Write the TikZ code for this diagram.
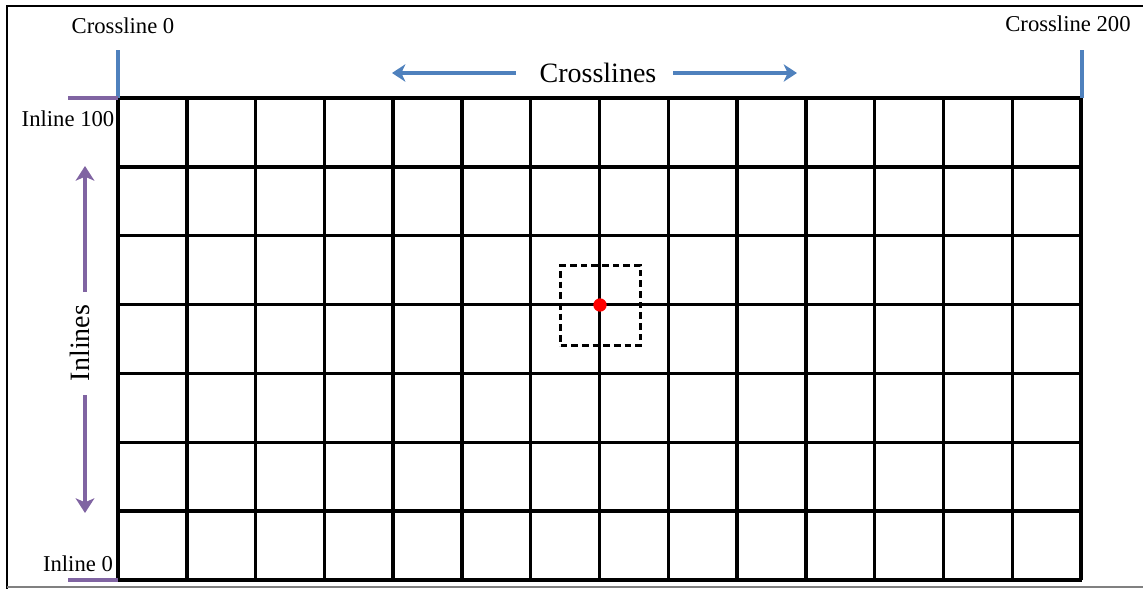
\documentclass[tikz,border=0pt]{standalone}
\usepackage{fontspec}
\setmainfont{Liberation Serif}
\usetikzlibrary{arrows.meta}
\definecolor{lblue}{HTML}{4F81BD}
\definecolor{lpurple}{HTML}{8064A2}
\tikzset{
  gridline/.style={line width=2.6pt, black},
  lbl/.style={inner sep=0pt, font=\fontsize{17}{19}\selectfont},
  biglbl/.style={inner sep=0pt, font=\fontsize{21}{24}\selectfont},
  bluearrow/.style={lblue, line width=2.6pt, -{Stealth[length=10pt,width=13pt,inset=3pt]}},
  purplearrow/.style={lpurple, line width=3pt, -{Stealth[length=11pt,width=14pt,inset=3pt]}},
  bluetick/.style={lblue, line width=2.4pt},
  purpletick/.style={lpurple, line width=2.8pt},
}
\begin{document}
\begin{tikzpicture}[x=0.75pt,y=-0.75pt]
\useasboundingbox (0,0) rectangle (1143,589);
% frame
\draw[line width=1.8pt] (7,589) -- (7,6) -- (1143,6);
\draw[line width=1.4pt, gray] (7,587) -- (1143,587);
% grid
\foreach \i in {0,...,14} {
  \draw[gridline] ({118+\i*68.79},98) -- ({118+\i*68.79},580);
}
\foreach \j in {0,...,7} {
  \draw[gridline] (117,{98+\j*68.86}) -- (1082,{98+\j*68.86});
}
% dashed window and point
\node[draw, line width=1.9pt, dash pattern=on 5pt off 3pt, minimum width=60pt, minimum height=60pt, inner sep=0pt] (win) at (600.5,305.5) {};
\node[circle, fill=red, inner sep=0pt, minimum size=10pt] (pt) at (600,305) {};
% labels
\node[lbl] (c0) at (123,26) {Crossline 0};
\node[lbl] (c200) at (1068,24) {Crossline 200};
\node[lbl] (i100) at (68,119) {Inline 100};
\node[lbl] (i0) at (78,564) {Inline 0};
\node[biglbl] (cl) at (598,73) {Crosslines};
\node[biglbl, rotate=90] (il) at (80,343) {Inlines};
% ticks
\coordinate (t0a) at (118,50); \coordinate (t0b) at (118,98);
\coordinate (t2a) at (1082,50); \coordinate (t2b) at (1082,98);
\draw[bluetick] (t0a) -- (t0b);
\draw[bluetick] (t2a) -- (t2b);
\coordinate (p1a) at (68,98); \coordinate (p1b) at (118,98);
\coordinate (p2a) at (68,580); \coordinate (p2b) at (118,580);
\draw[purpletick] (p1a) -- (p1b);
\draw[purpletick] (p2a) -- (p2b);
% arrows
\coordinate (la) at (516,73); \coordinate (lb) at (392,73);
\coordinate (ra) at (673,73); \coordinate (rb) at (797,73);
\draw[bluearrow] (la) -- (lb);
\draw[bluearrow] (ra) -- (rb);
\coordinate (ua) at (85,292); \coordinate (ub) at (85,166);
\coordinate (da) at (85,395); \coordinate (db) at (85,513);
\draw[purplearrow] (ua) -- (ub);
\draw[purplearrow] (da) -- (db);
\end{tikzpicture}
\end{document}
